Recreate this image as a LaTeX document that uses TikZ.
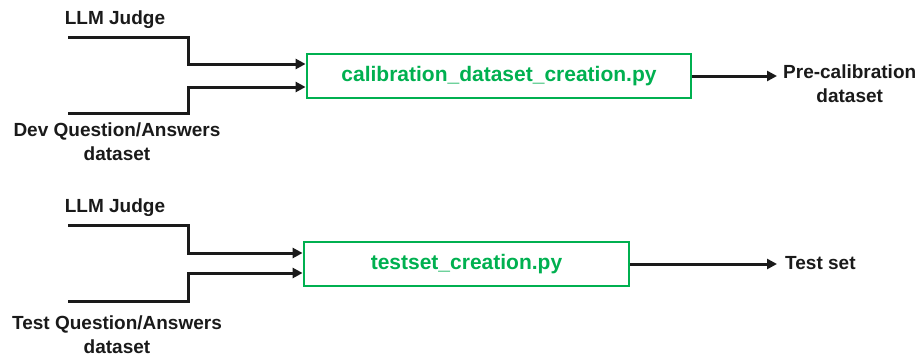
\documentclass[tikz,border=0pt]{standalone}
\usepackage{fontspec}
\setmainfont{Liberation Sans}
\usetikzlibrary{arrows.meta,calc}
\definecolor{boxgreen}{RGB}{0,176,80}
\definecolor{ink}{RGB}{26,26,26}
\tikzset{
  label/.style={font=\bfseries\fontsize{19}{24}\selectfont, text=ink, align=center, inner sep=0pt},
  script/.style={draw=boxgreen, line width=2.8pt, text=boxgreen,
    font=\bfseries\fontsize{21}{24}\selectfont, minimum height=44pt, inner sep=0pt},
  flow/.style={draw=ink, line width=3pt, -{Triangle[length=10pt,width=10pt]}},
}
\begin{document}
\begin{tikzpicture}[x=1pt,y=-1pt]
\useasboundingbox (0,0) rectangle (924,356);

% ---- calibration pipeline ----
\node[label] (judgeA) at (115,20) {LLM Judge};
\node[label] (devqa) at (117,142) {Dev Question/Answers\\dataset};
\coordinate (judgeAstart) at (68,37);
\coordinate (devqastart) at (68,113);
\node[script, minimum width=384pt] (calib) at (499,76) {calibration\_dataset\_creation.py};
\node[label, anchor=west] (precal) at (783,83.5) {Pre-calibration\\dataset};

\draw[flow] (judgeAstart) -- ++(120,0) |- ($(calib.west)+(0,-12)$);
\draw[flow] (devqastart) -- ++(120,0) |- ($(calib.west)+(0,11)$);
\draw[flow] (calib.east) -- ($(calib.east -| precal.west)+(-6,0)$);

% ---- test set pipeline ----
\node[label] (judgeB) at (115,208) {LLM Judge};
\node[label] (testqa) at (117,335) {Test Question/Answers\\dataset};
\coordinate (judgeBstart) at (68,225);
\coordinate (testqastart) at (68,301);
\node[script, minimum width=325pt] (testset) at (466.5,264) {testset\_creation.py};
\node[label, anchor=west] (testout) at (785,263) {Test set};

\draw[flow] (judgeBstart) -- ++(120,0) |- ($(testset.west)+(0,-11)$);
\draw[flow] (testqastart) -- ++(120,0) |- ($(testset.west)+(0,9)$);
\draw[flow] (testset.east) -- ($(testset.east -| testout.west)+(-8,0)$);
\end{tikzpicture}
\end{document}
